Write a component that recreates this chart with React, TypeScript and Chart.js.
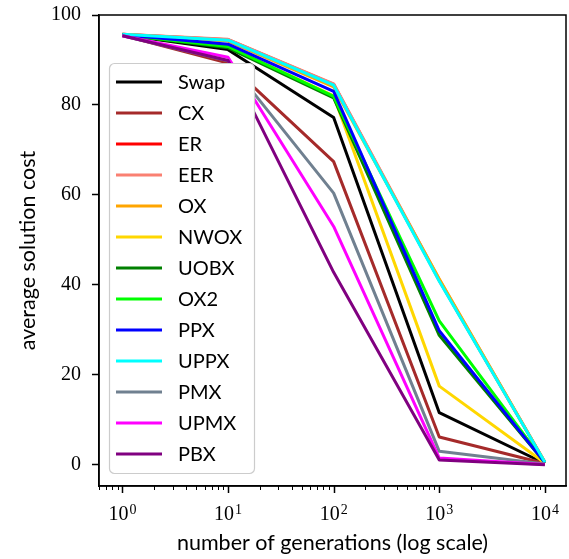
import React, { useEffect, useRef } from 'react';
import { Chart, registerables } from 'chart.js';

Chart.register(...registerables);

const generations = [1, 10, 100, 1000, 10000];

const seriesNames = ['Swap', 'CX', 'ER', 'EER', 'OX', 'NWOX', 'UOBX', 'OX2', 'PPX', 'UPPX', 'PMX', 'UPMX', 'PBX'];
const seriesColors = ['#000000', '#a52a2a', '#ff0000', '#fa8072', '#ffa500', '#ffd700', '#008000', '#00ff00', '#0000ff', '#00ffff', '#708090', '#ff00ff', '#800080'];

const swapCost = [95.6, 92.3, 77.2, 11.6, 0.3];
const cxCost = [95.5, 89.3, 67.4, 6.2, 0.3];
const erCost = [95.7, 94.5, 84.6, 41.0, 0.6];
const eerCost = [95.7, 94.6, 84.7, 41.2, 0.6];
const oxCost = [95.7, 94.2, 84.0, 41.3, 0.6];
const nwoxCost = [95.6, 93.0, 82.0, 17.5, 0.4];
const uobxCost = [95.6, 92.7, 81.6, 28.8, 0.5];
const ox2Cost = [95.6, 93.0, 81.9, 32.0, 0.5];
const ppxCost = [95.6, 93.5, 83.0, 29.8, 0.5];
const uppxCost = [95.7, 94.4, 84.4, 40.8, 0.6];
const pmxCost = [95.4, 89.8, 60.4, 3.0, 0.2];
const upmxCost = [95.4, 90.6, 53.0, 1.5, 0.1];
const pbxCost = [95.4, 89.9, 42.8, 1.1, 0.0];

const seriesValues = [swapCost, cxCost, erCost, eerCost, oxCost, nwoxCost, uobxCost, ox2Cost, ppxCost, uppxCost, pmxCost, upmxCost, pbxCost];

const yTickValues = [0, 20, 40, 60, 80, 100];
const xTickExponents = [0, 1, 2, 3, 4];

const SERIF = '"Liberation Serif", "DejaVu Serif", serif';
const SANS = 'Lato, "DejaVu Sans", sans-serif';

const overlayPlugin = {
  id: 'overlay',
  afterDraw(chart: any) {
    const ctx = chart.ctx as CanvasRenderingContext2D;
    const area = chart.chartArea;
    const xs = chart.scales.x;
    ctx.save();
    // frame (all four spines)
    ctx.strokeStyle = '#000';
    ctx.lineWidth = 1.5;
    ctx.strokeRect(area.left, area.top, area.right - area.left, area.bottom - area.top);
    // x ticks: major and minor (log)
    for (let n = -1; n <= 4; n++) {
      for (let k = 1; k <= 9; k++) {
        const v = k * Math.pow(10, n);
        if (v < xs.min || v > xs.max) continue;
        const px = Math.round(xs.getPixelForValue(v)) + 0.5;
        const major = k === 1;
        ctx.lineWidth = major ? 1.5 : 1;
        ctx.beginPath();
        ctx.moveTo(px, area.bottom);
        ctx.lineTo(px, area.bottom + (major ? 7 : 4));
        ctx.stroke();
      }
    }
    // x tick labels: 10 with superscript exponent
    ctx.fillStyle = '#000';
    ctx.textBaseline = 'alphabetic';
    ctx.textAlign = 'left';
    xTickExponents.forEach((e) => {
      const px = xs.getPixelForValue(Math.pow(10, e));
      ctx.font = `20px ${SERIF}`;
      const baseW = ctx.measureText('10').width;
      ctx.font = `14px ${SERIF}`;
      const expW = ctx.measureText(String(e)).width;
      const total = baseW + 1 + expW;
      const left = px - total / 2;
      const baseY = area.bottom + 34;
      ctx.font = `20px ${SERIF}`;
      ctx.fillText('10', left, baseY);
      ctx.font = `14px ${SERIF}`;
      ctx.fillText(String(e), left + baseW + 1, baseY - 6);
    });
    // legend
    const x0 = area.left + 10;
    const y0 = area.top + 48;
    const w = 145;
    const h = 410;
    ctx.beginPath();
    ctx.roundRect(x0 + 0.5, y0 + 0.5, w, h, 5);
    ctx.fillStyle = '#ffffff';
    ctx.fill();
    ctx.strokeStyle = '#cccccc';
    ctx.lineWidth = 1.2;
    ctx.stroke();
    ctx.font = `20px ${SANS}`;
    ctx.textBaseline = 'middle';
    ctx.textAlign = 'left';
    chart.data.datasets.forEach((ds: any, i: number) => {
      const y = y0 + 19 + i * 31;
      ctx.strokeStyle = ds.borderColor;
      ctx.lineWidth = 3;
      ctx.beginPath();
      ctx.moveTo(x0 + 7, y);
      ctx.lineTo(x0 + 53, y);
      ctx.stroke();
      ctx.fillStyle = '#000';
      ctx.fillText(ds.label, x0 + 69, y + 1);
    });
    ctx.restore();
  },
};

export default function App() {
  const canvasRef = useRef<HTMLCanvasElement | null>(null);

  useEffect(() => {
    if (!canvasRef.current) return;
    const datasets = seriesNames.map((name, i) => ({
      label: name,
      data: generations.map((g, j) => ({ x: g, y: seriesValues[i][j] })),
      borderColor: seriesColors[i],
      backgroundColor: seriesColors[i],
      borderWidth: 3,
      pointRadius: 0,
      tension: 0,
      fill: false,
      borderJoinStyle: 'round' as const,
      order: seriesNames.length - i,
    }));

    const chart = new Chart(canvasRef.current, {
      type: 'line',
      data: { datasets },
      plugins: [overlayPlugin],
      options: {
        animation: false,
        responsive: false,
        devicePixelRatio: 1,
        layout: { padding: { top: 15, right: 3, left: 0, bottom: 0 } },
        plugins: { legend: { display: false }, tooltip: { enabled: false } },
        scales: {
          x: {
            type: 'logarithmic',
            min: Math.pow(10, -0.2),
            max: Math.pow(10, 4.2),
            afterFit: (scale: any) => {
              scale.height = 73;
              scale.paddingLeft = 0;
              scale.paddingRight = 0;
            },
            grid: { display: false, drawTicks: false },
            border: { display: true, color: '#000', width: 1.5 },
            ticks: {
              autoSkip: false,
              maxRotation: 0,
              color: '#000',
              font: { family: SERIF, size: 20 },
              callback: () => '',
            },
            title: {
              display: true,
              text: 'number of generations (log scale)',
              color: '#000',
              font: { family: SANS, size: 21.5 },
              padding: { top: 0, bottom: 3 },
            },
          },
          y: {
            type: 'linear',
            min: -4.7,
            max: 100,
            afterFit: (scale: any) => {
              scale.width = 99;
              scale.paddingTop = 0;
              scale.paddingBottom = 0;
            },
            grid: { drawOnChartArea: false, drawTicks: true, tickLength: 7, tickColor: '#000', tickWidth: 1.5 },
            border: { display: true, color: '#000', width: 1.5 },
            afterBuildTicks: (scale: any) => {
              scale.ticks = yTickValues.map((v) => ({ value: v }));
            },
            ticks: {
              padding: 11,
              color: '#000',
              font: { family: SERIF, size: 20 },
            },
            title: {
              display: true,
              text: 'average solution cost',
              color: '#000',
              font: { family: SANS, size: 21.5 },
              padding: { top: 15, bottom: 0 },
            },
          },
        },
      },
    });
    return () => chart.destroy();
  }, []);

  return (
    <div style={{ position: 'absolute', left: 0, top: 0, width: 569, height: 559 }}>
      <canvas ref={canvasRef} width={569} height={559} />
    </div>
  );
}
